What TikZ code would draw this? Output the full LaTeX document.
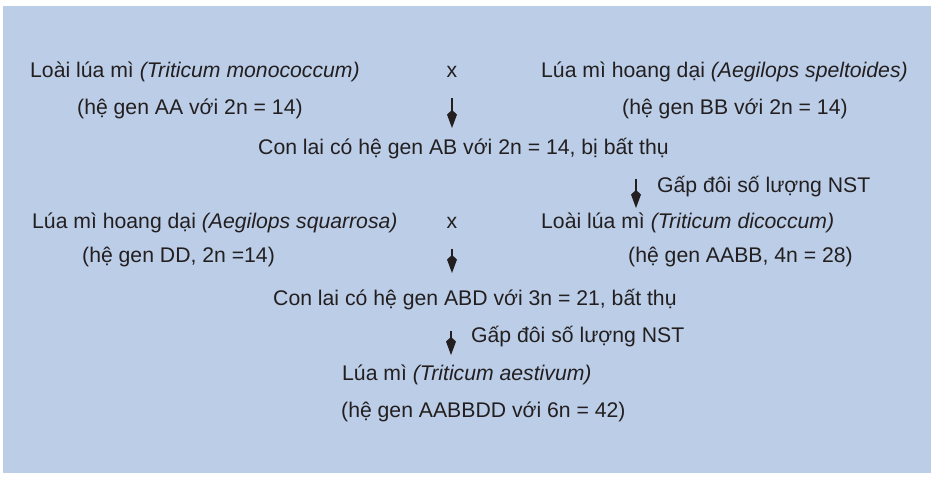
\documentclass[tikz,border=0pt]{standalone}
\usepackage{fontspec}
\setmainfont{Liberation Sans}
\usetikzlibrary{arrows.meta}
\definecolor{bgblue}{RGB}{187,205,231}
\definecolor{ink}{RGB}{35,31,32}
\begin{document}
\begin{tikzpicture}[x=1pt,y=-1pt,
  txt/.style={anchor=base west,inner sep=0pt,text=ink,font=\fontsize{21.2}{24}\selectfont},
  crs/.style={anchor=base,inner sep=0pt,text=ink,font=\fontsize{21.2}{24}\selectfont},
  arr/.style={draw=ink,line width=2pt,-{Kite[length=18pt,width=10pt,inset=4.5pt]}}]
\useasboundingbox (0,0) rectangle (931,477);
\fill[bgblue] (3,6) rectangle (931,473);
% row 1
\node[txt] (p1) at (30,77.5) {Loài lúa mì \textit{(Triticum monococcum)}};
\node[crs] (x1) at (452,77.5) {x};
\node[txt] (p2) at (541,77.5) {Lúa mì hoang dại \textit{(Aegilops speltoides)}};
\node[txt] (g1) at (77,114) {(hệ gen AA với 2n = 14)};
\node[txt] (g2) at (622,114) {(hệ gen BB với 2n = 14)};
\coordinate (a1s) at (452,98);
\coordinate (a1e) at (452,128);
\draw[arr] (a1s) -- (a1e);
\node[txt] (h1) at (258,154.5) {Con lai có hệ gen AB với 2n = 14, bị bất thụ};
\coordinate (a2s) at (636,179);
\coordinate (a2e) at (636,208);
\draw[arr] (a2s) -- (a2e);
\node[txt] (d1) at (657,192) {Gấp đôi số lượng NST};
% row 2
\node[txt] (p3) at (32,228) {Lúa mì hoang dại \textit{(Aegilops squarrosa)}};
\node[crs] (x2) at (452,228) {x};
\node[txt] (p4) at (541,228) {Loài lúa mì \textit{(Triticum dicoccum)}};
\node[txt] (g3) at (82,262) {(hệ gen DD, 2n =14)};
\node[txt] (g4) at (628,262) {(hệ gen AABB, 4n = 28)};
\coordinate (a3s) at (452,249);
\coordinate (a3e) at (452,273);
\draw[arr] (a3s) -- (a3e);
\node[txt] (h2) at (273,305) {Con lai có hệ gen ABD với 3n = 21, bất thụ};
\coordinate (a4s) at (451,331);
\coordinate (a4e) at (451,355);
\draw[arr] (a4s) -- (a4e);
\node[txt] (d2) at (471,342) {Gấp đôi số lượng NST};
\node[txt] (f1) at (342,380) {Lúa mì \textit{(Triticum aestivum)}};
\node[txt] (f2) at (341,417) {(hệ gen AABBDD với 6n = 42)};
\end{tikzpicture}
\end{document}
